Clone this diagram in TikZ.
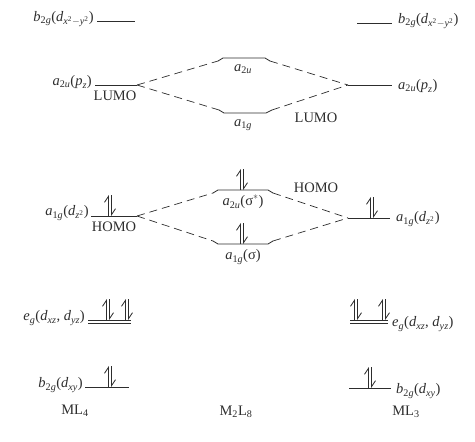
\documentclass[tikz,border=0pt]{standalone}
\usepackage{amsmath}
\usepackage{fontspec}
\setmainfont{Liberation Serif}
\usetikzlibrary{arrows.meta}
\newcommand\ti[1]{\textit{#1}}
\newcommand\tu[1]{\textup{#1}}
\definecolor{ink}{RGB}{45,45,45}
\tikzset{
  lvl/.style={line width=0.8pt, draw=ink},
  conn/.style={draw=ink, line width=0.7pt, dash pattern=on 8pt off 5pt},
  txt/.style={font=\fontsize{14.5}{17}\selectfont, inner sep=0pt, text=ink},
  epair/.pic={
    \draw[draw=ink, line width=0.8pt, -{Straight Barb[left,length=6pt,width=8pt]}] (-1.5,0) -- (-1.5,-21);
    \draw[draw=ink, line width=0.8pt, -{Straight Barb[left,length=6pt,width=8pt]}] (1.5,-21) -- (1.5,0);
  }
}
\begin{document}
\begin{tikzpicture}[x=1pt,y=-1pt]
\useasboundingbox (0,0) rectangle (475,442);
% ---- left column (ML4)
\coordinate (L1l) at (97,21);  \coordinate (L1r) at (135,21);
\coordinate (L2l) at (95,85);  \coordinate (L2r) at (137,85);
\coordinate (L3l) at (91,216); \coordinate (L3r) at (137,216);
\coordinate (L4l) at (88,320); \coordinate (L4r) at (131,320);
\coordinate (L5l) at (85,387); \coordinate (L5r) at (129,387);
\draw[lvl] (L1l) -- (L1r);
\draw[lvl] (L2l) -- (L2r);
\draw[lvl] (L3l) -- (L3r);
\draw[lvl] (L4l) -- (L4r);
\draw[lvl] ([yshift=-3pt]L4l) -- ([yshift=-3pt]L4r);
\draw[lvl] (L5l) -- (L5r);
\pic at (110,216) {epair};
\pic at (108,320) {epair};
\pic at (127,320) {epair};
\pic at (110,387) {epair};
\node[txt, anchor=east] (tL1) at (94,19) {$\ti{b}_{\tu{2}\ti{g}}\tu{(}\ti{d}_{\ti{x}^{\tu{2}}-\ti{y}^{\tu{2}}}\tu{)}$};
\node[txt, anchor=east] (tL2) at (92,82) {$\ti{a}_{\tu{2}\ti{u}}\tu{(}\ti{p}_{\ti{z}}\tu{)}$};
\node[txt] (lumoL) at (115,96) {LUMO};
\node[txt, anchor=east] (tL3) at (89,213) {$\ti{a}_{\tu{1}\ti{g}}\tu{(}\ti{d}_{\ti{z}^{\tu{2}}}\tu{)}$};
\node[txt] (homoL) at (114,227) {HOMO};
\node[txt, anchor=east] (tL4) at (85,318) {$\ti{e}_{\ti{g}}\tu{(}\ti{d}_{\ti{xz}}\tu{, }\ti{d}_{\ti{yz}}\tu{)}$};
\node[txt, anchor=east] (tL5) at (83,385) {$\ti{b}_{\tu{2}\ti{g}}\tu{(}\ti{d}_{\ti{xy}}\tu{)}$};
\node[txt] (ml4) at (75,411) {ML$_{\tu{4}}$};
% ---- middle column (M2L8)
\coordinate (M1a) at (218,61);  \coordinate (M1l) at (223,58);  \coordinate (M1r) at (265,58);  \coordinate (M1b) at (270,61);
\coordinate (M2a) at (219,110); \coordinate (M2l) at (224,113); \coordinate (M2r) at (266,113); \coordinate (M2b) at (272,110);
\coordinate (M3a) at (213,193); \coordinate (M3l) at (218,190); \coordinate (M3r) at (268,190); \coordinate (M3b) at (273,193);
\coordinate (M4a) at (213,241); \coordinate (M4l) at (218,244); \coordinate (M4r) at (268,244); \coordinate (M4b) at (273,241);
\draw[lvl] (M1a) -- (M1l) -- (M1r) -- (M1b);
\draw[lvl] (M2a) -- (M2l) -- (M2r) -- (M2b);
\draw[lvl] (M3a) -- (M3l) -- (M3r) -- (M3b);
\draw[lvl] (M4a) -- (M4l) -- (M4r) -- (M4b);
\pic at (242,190) {epair};
\pic at (242,244) {epair};
\node[txt] (tM1) at (243,69) {$\ti{a}_{\tu{2}\ti{u}}$};
\node[txt] (tM2) at (243,125) {$\ti{a}_{\tu{1}\ti{g}}$};
\node[txt] (tM3) at (243,202) {$\ti{a}_{\tu{2}\ti{u}}\tu{(σ}^{*}\tu{)}$};
\node[txt] (tM4) at (243,257) {$\ti{a}_{\tu{1}\ti{g}}\tu{(σ)}$};
\node[txt] (m2l8) at (236,412) {M$_{\tu{2}}$L$_{\tu{8}}$};
% ---- right column (ML3)
\coordinate (R1l) at (357,23);  \coordinate (R1r) at (392,23);
\coordinate (R2l) at (348,85);  \coordinate (R2r) at (392,85);
\coordinate (R3l) at (348,218); \coordinate (R3r) at (390,218);
\coordinate (R4l) at (350,320); \coordinate (R4r) at (388,320);
\coordinate (R5l) at (349,388); \coordinate (R5r) at (391,388);
\draw[lvl] (R1l) -- (R1r);
\draw[lvl] (R2l) -- (R2r);
\draw[lvl] (R3l) -- (R3r);
\draw[lvl] (R4l) -- (R4r);
\draw[lvl] ([yshift=-3pt]R4l) -- ([yshift=-3pt]R4r);
\draw[lvl] (R5l) -- (R5r);
\pic at (372,218) {epair};
\pic at (356,320) {epair};
\pic at (384,320) {epair};
\pic at (370,388) {epair};
\node[txt, anchor=west] (tR1) at (398,21) {$\ti{b}_{\tu{2}\ti{g}}\tu{(}\ti{d}_{\ti{x}^{\tu{2}}-\ti{y}^{\tu{2}}}\tu{)}$};
\node[txt, anchor=west] (tR2) at (398,86) {$\ti{a}_{\tu{2}\ti{u}}\tu{(}\ti{p}_{\ti{z}}\tu{)}$};
\node[txt] (lumoR) at (316,118) {LUMO};
\node[txt, anchor=west] (tR3) at (396,219) {$\ti{a}_{\tu{1}\ti{g}}\tu{(}\ti{d}_{\ti{z}^{\tu{2}}}\tu{)}$};
\node[txt] (homoR) at (316,188) {HOMO};
\node[txt, anchor=west] (tR4) at (392,324) {$\ti{e}_{\ti{g}}\tu{(}\ti{d}_{\ti{xz}}\tu{, }\ti{d}_{\ti{yz}}\tu{)}$};
\node[txt, anchor=west] (tR5) at (396,391) {$\ti{b}_{\tu{2}\ti{g}}\tu{(}\ti{d}_{\ti{xy}}\tu{)}$};
\node[txt] (ml3) at (406,412) {ML$_{\tu{3}}$};
% ---- correlation lines
\draw[conn] (L2r) -- (M1a);
\draw[conn] (L2r) -- (M2a);
\draw[conn] (M1b) -- (R2l);
\draw[conn] (M2b) -- (R2l);
\draw[conn] (L3r) -- (M3a);
\draw[conn] (L3r) -- (M4a);
\draw[conn] (M3b) -- (R3l);
\draw[conn] (M4b) -- (R3l);
\end{tikzpicture}
\end{document}
